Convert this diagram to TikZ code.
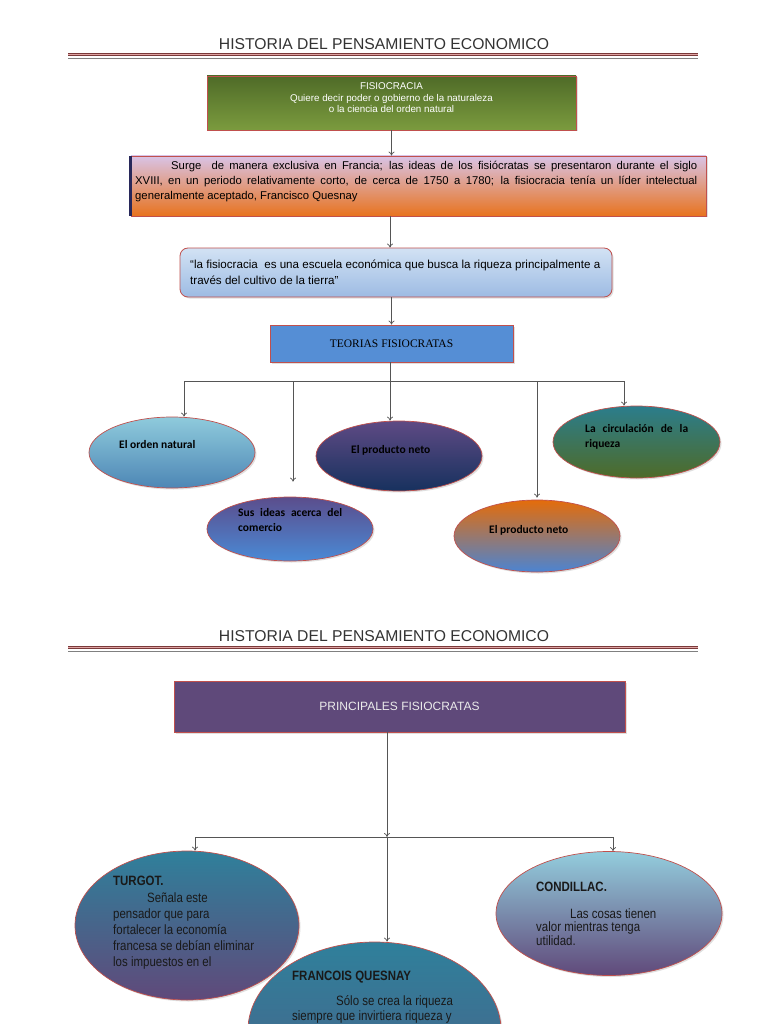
\documentclass[tikz,border=0pt]{standalone}
\usepackage{fontspec}
\setmainfont{Liberation Sans}
\newfontfamily\titlefont{Liberation Sans}
\newfontfamily\narrowfont{Liberation Sans}[FakeStretch=0.85]
\newfontfamily\calfont{Carlito}
\newfontfamily\serfont{Liberation Serif}
\usetikzlibrary{shapes.geometric,arrows.meta,shadows}
\definecolor{bord}{HTML}{C0504D}
\definecolor{linec}{HTML}{555555}
\definecolor{titlec}{HTML}{333333}
\definecolor{greentop}{HTML}{4F6B28}
\definecolor{greenbot}{HTML}{7B9B3E}
\definecolor{ortop}{HTML}{D9C3E6}
\definecolor{ormid}{HTML}{F0A67A}
\definecolor{orbot}{HTML}{E8731E}
\definecolor{bltop}{HTML}{D2E2F4}
\definecolor{blbot}{HTML}{9DBBE3}
\definecolor{teor}{HTML}{558ED5}
\definecolor{purp}{HTML}{5F497A}
\definecolor{navyedge}{HTML}{28285A}
\definecolor{eAt}{HTML}{8FCBDC}\definecolor{eAb}{HTML}{4D86B5}
\definecolor{eBt}{HTML}{5B4D8C}\definecolor{eBb}{HTML}{4A8AD6}
\definecolor{eCt}{HTML}{5E4A84}\definecolor{eCb}{HTML}{17315E}
\definecolor{eDt}{HTML}{E46C0A}\definecolor{eDb}{HTML}{4B84D2}
\definecolor{eEt}{HTML}{2B7D8C}\definecolor{eEb}{HTML}{4F6B28}
\definecolor{tealt}{HTML}{2F809B}\definecolor{purb}{HTML}{60497A}
\definecolor{lbt}{HTML}{93CDDD}
\definecolor{rulec}{HTML}{7A3A3A}
\definecolor{rulein}{HTML}{E0A4A4}
\tikzset{
  box/.style={draw=bord, line width=0.8pt, inner sep=0pt, drop shadow={opacity=0.25,shadow xshift=1.5pt,shadow yshift=-1.5pt}},
  oval/.style={ellipse, draw=bord, line width=0.7pt, inner sep=0pt, drop shadow={opacity=0.25,shadow xshift=1.5pt,shadow yshift=-1.5pt}},
  arr/.style={draw=linec, line width=0.7pt, -{To[length=4pt,width=6pt]}},
  ln/.style={draw=linec, line width=0.7pt},
  otext/.style={font=\calfont\bfseries\fontsize{11.5}{15}\selectfont, text=black, inner sep=0pt, align=left},
  ntext/.style={font=\narrowfont\fontsize{13.5}{16}\selectfont, text=black!90, inner sep=0pt, align=left},
  ttl/.style={font=\titlefont\fontsize{15.7}{18}\selectfont, text=titlec, inner sep=0pt}
}
\begin{document}
\begin{tikzpicture}[x=1pt,y=-1pt]
\useasboundingbox[fill=white] (0,0) rectangle (768,1024);

% ---------- page 1 ----------
\node[ttl] (title1) at (384,44) {HISTORIA DEL PENSAMIENTO ECONOMICO};
\draw[rulec, line width=3.2pt] (68,54.5) -- (698,54.5);
\draw[rulein, line width=1pt] (68,54.5) -- (698,54.5);
\draw[gray, line width=0.8pt] (68,58.5) -- (698,58.5);

\node[box, top color=greentop, bottom color=greenbot, minimum width=369pt, minimum height=54pt] (fisio) at (391.5,103) {};
\node[font=\fontsize{9.8}{11.5}\selectfont, text=white, align=center, inner sep=0pt] (fisiot) at (391.5,98)
  {FISIOCRACIA\\Quiere decir poder o gobierno de la naturaleza\\o la ciencia del orden natural};

\node[box, top color=ortop, middle color=ormid, bottom color=orbot, minimum width=575pt, minimum height=60pt] (surge) at (418.5,186) {};
\draw[navyedge, line width=2.5pt] (surge.north west) -- (surge.south west);
\node[anchor=north west, inner sep=0pt, text width=562pt, font=\fontsize{11.3}{15}\selectfont, align=justify] (surget) at (135,160.5)
  {\hspace*{36pt}Surge\ \ de manera exclusiva en Francia; las ideas de los fisiócratas se presentaron durante el siglo\linebreak XVIII, en un periodo relativamente corto, de cerca de 1750 a 1780; la fisiocracia tenía un líder intelectual\linebreak generalmente aceptado, Francisco Quesnay};

\node[box, rounded corners=8pt, top color=bltop, bottom color=blbot, minimum width=432pt, minimum height=49pt] (escuela) at (396,272.5) {};
\node[anchor=north west, inner sep=0pt, font=\fontsize{11.6}{16}\selectfont, align=left] (escuelat) at (190,260)
  {“la fisiocracia\ \ es una escuela económica que busca la riqueza principalmente a\\través del cultivo de la tierra”};

\node[box, fill=teor, minimum width=243pt, minimum height=37pt, font=\serfont\fontsize{11.5}{13}\selectfont] (teorias) at (391.5,343.5) {TEORIAS FISIOCRATAS};

\node[oval, top color=eAt, bottom color=eAb, minimum width=166pt, minimum height=71pt] (orden) at (172,452.5) {};
\node[oval, top color=eBt, bottom color=eBb, minimum width=166pt, minimum height=64pt] (ideas) at (290,529) {};
\node[oval, top color=eCt, bottom color=eCb, minimum width=166pt, minimum height=70pt] (neto) at (399,456) {};
\node[oval, top color=eDt, bottom color=eDb, minimum width=166pt, minimum height=72pt] (neto2) at (537,536) {};
\node[oval, top color=eEt, bottom color=eEb, minimum width=167pt, minimum height=72pt] (circ) at (636.5,442) {};

\node[otext, anchor=west] (ordent) at (119,445) {El orden natural};
\node[otext, anchor=north west, text width=104pt, align=justify] (ideast) at (238,508.5) {Sus ideas acerca del\linebreak comercio};
\node[otext, anchor=west] (netot) at (351,450) {El producto neto};
\node[otext, anchor=west] (neto2t) at (489,530) {El producto neto};
\node[otext, anchor=north west, text width=103pt, align=justify] (circt) at (585,424.5) {La circulación de la\linebreak riqueza};

\coordinate (hub1) at (390,381);
\coordinate (b1) at (184,381);
\coordinate (b2) at (293,381);
\coordinate (b4) at (537,381);
\coordinate (b5) at (624,381);
\coordinate (s1) at (390,216);
\draw[arr] (fisio.south) -- (surge.north -| fisio.south);
\draw[arr] (s1) -- (escuela.north -| s1);
\draw[arr] (escuela.south -| teorias.south) -- (teorias.north);
\draw[ln] (teorias.south -| hub1) -- (hub1);
\draw[ln] (b1) -- (b5);
\draw[arr] (b1) -- (b1 |- orden.north);
\draw[arr, shorten >=15pt] (b2) -- (b2 |- ideas.north);
\draw[arr] (hub1) -- (hub1 |- neto.north);
\draw[arr, shorten >=2pt] (b4) -- (b4 |- neto2.north);
\draw[arr] (b5) -- (b5 |- circ.north);

% ---------- page 2 ----------
\node[ttl] (title2) at (384,636) {HISTORIA DEL PENSAMIENTO ECONOMICO};
\draw[rulec, line width=3.2pt] (68,647.5) -- (698,647.5);
\draw[rulein, line width=1pt] (68,647.5) -- (698,647.5);
\draw[gray, line width=0.8pt] (68,651.5) -- (698,651.5);

\node[box, fill=purp, minimum width=451pt, minimum height=51pt, text=white!92!black, font=\fontsize{12}{13}\selectfont] (princ) at (399.5,706.5) {PRINCIPALES FISIOCRATAS};

\node[oval, top color=tealt, bottom color=purb, minimum width=224pt, minimum height=149pt] (turgot) at (187,925.5) {};
\node[oval, top color=lbt, bottom color=purb, minimum width=226pt, minimum height=124pt] (condi) at (609,913.5) {};
\node[oval, top color=tealt, bottom color=purb!60!tealt, minimum width=253pt, minimum height=176pt] (quesnay) at (374.5,1030) {};

\node[ntext, anchor=north west] (turgott) at (113,876)
  {\textbf{TURGOT.}\\[1pt]\hspace*{34pt}Señala este\\pensador que para\\fortalecer la economía\\francesa se debían eliminar\\los impuestos en el};
\node[ntext, anchor=north west, font=\narrowfont\fontsize{13.5}{13.5}\selectfont] (condit) at (536,882)
  {\textbf{CONDILLAC.}\\[13pt]\hspace*{34pt}Las cosas tienen\\valor mientras tenga\\utilidad.};
\node[ntext, anchor=north west, font=\narrowfont\fontsize{13.5}{15.5}\selectfont] (quesnayt) at (292,971)
  {\textbf{FRANCOIS QUESNAY}\\[9pt]\hspace*{44pt}Sólo se crea la riqueza\\siempre que invirtiera riqueza y};

\coordinate (hub2) at (387,837);
\coordinate (c1) at (195,837);
\coordinate (c3) at (613,837);
\draw[arr] (princ.south -| hub2) -- (hub2);
\draw[ln] (c1) -- (c3);
\draw[arr] (c1) -- (c1 |- turgot.north);
\draw[arr] (c3) -- (c3 |- condi.north);
\draw[arr] (hub2) -- (hub2 |- quesnay.north);
\end{tikzpicture}
\end{document}
